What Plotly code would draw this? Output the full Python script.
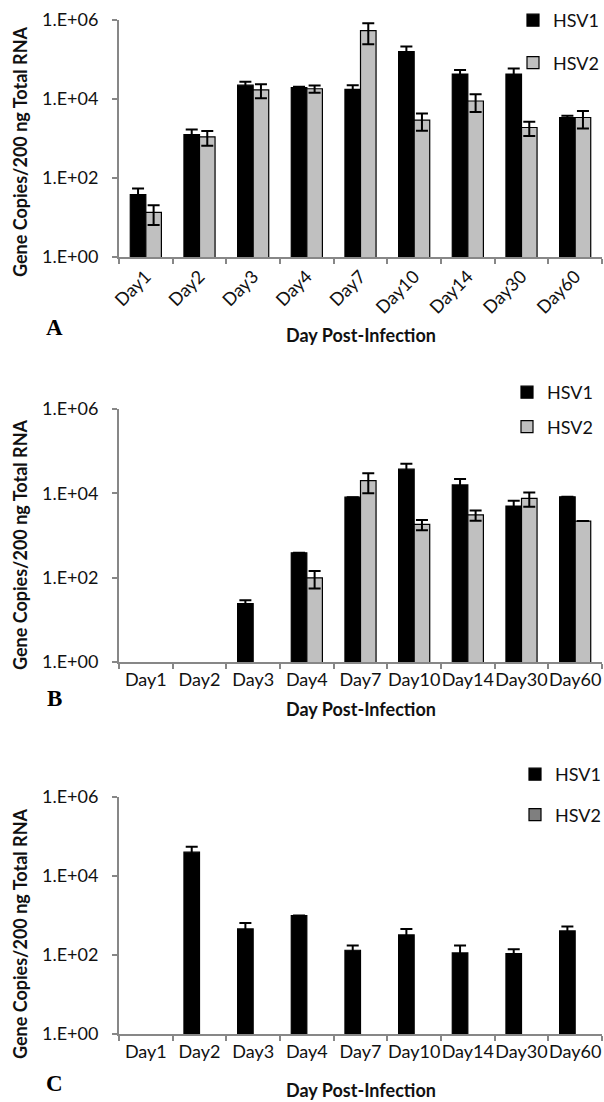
import plotly.graph_objects as go

# Day post-infection categories shared by all three panels
days = ["Day1", "Day2", "Day3", "Day4", "Day7", "Day10", "Day14", "Day30", "Day60"]

# Panel A
a_hsv1 = [38, 1260, 22400, 19300, 17500, 158000, 43000, 43000, 3400]
a_hsv1_err = [16, 440, 5100, 1000, 4900, 55000, 11000, 16000, 380]
a_hsv2 = [13.5, 1100, 17000, 18200, 537000, 2930, 8900, 1900, 3400]
a_hsv2_err = [7, 440, 6500, 3800, 293000, 1370, 4200, 750, 1600]

# Panel B
b_hsv1 = [None, None, 24.4, 390, 8100, 37500, 15800, 5000, 8300]
b_hsv1_err = [None, None, 4.6, None, None, 12500, 6200, 1700, None]
b_hsv2 = [None, None, None, 99, 20000, 1830, 3070, 7600, 2200]
b_hsv2_err = [None, None, None, 44, 10000, 500, 830, 2800, None]

# Panel C
c_hsv1 = [None, 40000, 457, 1000, 132, 323, 113, 109, 407]
c_hsv1_err = [None, 15000, 193, None, 42, 134, 61, 31, 118]
c_hsv2 = [None] * 9
c_hsv2_err = [None] * 9

y_tickvals = [1, 100, 10000, 1000000]
y_ticktext = ["1.E+00", "1.E+02", "1.E+04", "1.E+06"]

W, H = 604, 1102
ML, MR = 119, 2
PW = W - ML - MR

FONT = "Lato"
TEXT = "#111111"
AXIS_GRAY = "#878787"
LIGHT_GRAY = "#c0c0c0"
MID_GRAY = "#7f7f7f"

# pixel extents of each panel's y axis (1.E+06 top, 1.E+00 bottom)
panels = [
    dict(top=20, bottom=257, hsv1=a_hsv1, e1=a_hsv1_err, hsv2=a_hsv2, e2=a_hsv2_err,
         gray=LIGHT_GRAY, angle=-45, legend="legend"),
    dict(top=409, bottom=662, hsv1=b_hsv1, e1=b_hsv1_err, hsv2=b_hsv2, e2=b_hsv2_err,
         gray=LIGHT_GRAY, angle=0, legend="legend2"),
    dict(top=797, bottom=1034, hsv1=c_hsv1, e1=c_hsv1_err, hsv2=c_hsv2, e2=c_hsv2_err,
         gray=MID_GRAY, angle=0, legend="legend3"),
]


def py(pix):
    return 1 - pix / H


def px(pix):
    return (pix - ML) / PW


fig = go.Figure()
layout = dict(
    width=W, height=H,
    margin=dict(l=ML, r=MR, t=0, b=0, autoexpand=False),
    paper_bgcolor="white", plot_bgcolor="white",
    barmode="group", bargap=0.42, bargroupgap=0,
    font=dict(family=FONT, size=18, color=TEXT),
    showlegend=True,
)

for i, p in enumerate(panels):
    n = "" if i == 0 else str(i + 1)
    xa, ya = "x" + n, "y" + n
    for name, vals, errs, color in (("HSV1", p["hsv1"], p["e1"], "black"),
                                    ("HSV2", p["hsv2"], p["e2"], p["gray"])):
        fig.add_trace(go.Bar(
            x=days, y=vals, name=name,
            xaxis=xa, yaxis=ya,
            legend=p["legend"], legendgroup=name + n,
            marker=dict(color=color, line=dict(color="black", width=1.2)),
            error_y=dict(type="data", array=errs, visible=True,
                         color="black", thickness=2, width=6),
        ))
    layout["xaxis" + n] = dict(
        domain=[0, 1], anchor=ya, type="category", automargin=False,
        showline=True, linecolor=AXIS_GRAY, linewidth=2,
        ticks="outside", tickson="boundaries", ticklen=5, tickwidth=2,
        tickcolor=AXIS_GRAY, showgrid=False, zeroline=False,
        tickangle=p["angle"], tickfont=dict(size=18, color=TEXT),
    )
    layout["yaxis" + n] = dict(
        domain=[py(p["bottom"]), py(p["top"])], anchor=xa, type="log",
        automargin=False,
        range=[0, 6], tickvals=y_tickvals, ticktext=y_ticktext,
        showline=True, linecolor=AXIS_GRAY, linewidth=2,
        ticks="outside", ticklen=5, tickwidth=2, tickcolor=AXIS_GRAY,
        showgrid=False, zeroline=False, ticklabelstandoff=10,
        tickfont=dict(size=18, color=TEXT),
    )

leg_common = dict(xref="paper", yref="paper", xanchor="left", yanchor="top",
                  bgcolor="rgba(0,0,0,0)", borderwidth=0,
                  font=dict(size=18, color=TEXT), traceorder="grouped")
layout["legend"] = dict(leg_common, x=px(513), y=py(2), tracegroupgap=16)
layout["legend2"] = dict(leg_common, x=px(507), y=py(374), tracegroupgap=8)
layout["legend3"] = dict(leg_common, x=px(515), y=py(756), tracegroupgap=14)

annotations = []
ytitle_centers = [152, 545, 934]
xtitle_centers = [335, 709, 1090]
letters = [("A", 327), ("B", 698), ("C", 1083)]
for yc in ytitle_centers:
    annotations.append(dict(
        text="<b>Gene Copies/200 ng Total RNA</b>", textangle=-90,
        xref="paper", yref="paper", x=px(20), y=py(yc),
        xanchor="center", yanchor="middle", showarrow=False,
        font=dict(family=FONT, size=18, color=TEXT),
    ))
for yc in xtitle_centers:
    annotations.append(dict(
        text="<b>Day Post-Infection</b>",
        xref="paper", yref="paper", x=px(361), y=py(yc),
        xanchor="center", yanchor="middle", showarrow=False,
        font=dict(family=FONT, size=18, color=TEXT),
    ))
for letter, yc in letters:
    annotations.append(dict(
        text="<b>" + letter + "</b>",
        xref="paper", yref="paper", x=px(54), y=py(yc),
        xanchor="center", yanchor="middle", showarrow=False,
        font=dict(family="Liberation Serif", size=23, color="black"),
    ))
layout["annotations"] = annotations

fig.update_layout(**layout)
fig.write_html("out.html")
